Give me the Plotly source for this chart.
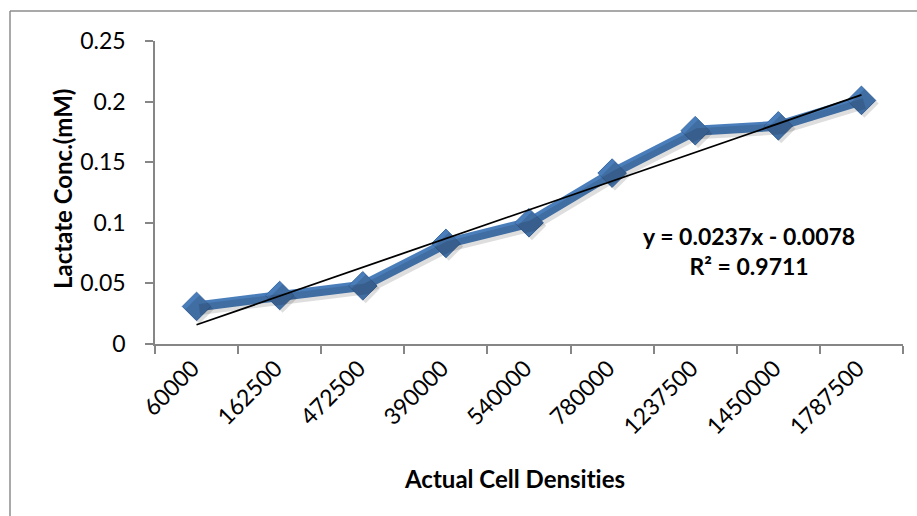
import plotly.graph_objects as go

# Cell density categories (x) and measured lactate concentration (y)
cell_densities = ["60000", "162500", "472500", "390000", "540000",
                  "780000", "1237500", "1450000", "1787500"]
lactate_mM = [0.031, 0.040, 0.048, 0.083, 0.100, 0.141, 0.176, 0.180, 0.201]

# Linear trendline (x = category index 1..n)
slope = 0.0237
intercept = -0.0078
r_squared = 0.9711

y_ticks = [0, 0.05, 0.1, 0.15, 0.2, 0.25]
y_tick_text = ["0", "0.05", "0.1", "0.15", "0.2", "0.25"]

idx = list(range(1, len(cell_densities) + 1))
trend_y = [slope * i + intercept for i in idx]

W, H = 917, 516
L, R, T, B = 155, 14, 41, 172
pw, ph = W - L - R, H - T - B

FONT = "Lato, Open Sans, sans-serif"
BLUE = "#4a7ebb"
AXIS = "#868686"


def px_x(p):
    return (p - L) / pw


def px_y(p):
    return (H - B - p) / ph


fig = go.Figure()

# soft drop shadow under the series
fig.add_trace(go.Scatter(
    x=[i + 0.035 for i in idx], y=[v - 0.0025 for v in lactate_mM],
    xaxis="x2", mode="lines+markers",
    line=dict(color="rgba(0,0,0,0.13)", width=11),
    marker=dict(symbol="diamond", size=22, color="rgba(0,0,0,0.13)"),
    hoverinfo="skip", showlegend=False))

fig.add_trace(go.Scatter(
    x=cell_densities, y=lactate_mM, mode="lines+markers",
    line=dict(color=BLUE, width=10),
    marker=dict(symbol="diamond", size=22, color=BLUE,
                line=dict(color="#3b6aa6", width=1)),
    showlegend=False))

fig.add_trace(go.Scatter(
    x=cell_densities, y=trend_y, mode="lines",
    line=dict(color="black", width=1.8), showlegend=False))

fig.update_layout(
    width=W, height=H,
    margin=dict(l=L, r=R, t=T, b=B),
    paper_bgcolor="white", plot_bgcolor="white",
    font=dict(family=FONT, color="black"),
    xaxis=dict(
        type="category", range=[-0.5, len(cell_densities) - 0.5],
        tickson="boundaries", ticks="outside", ticklen=8, tickcolor=AXIS,
        tickwidth=1.5, showline=True, linecolor=AXIS, linewidth=1.5,
        showgrid=False, zeroline=False, tickangle=-45,
        ticklabelshift=-4,
        tickfont=dict(size=23, family=FONT)),
    xaxis2=dict(overlaying="x", range=[0.5, len(cell_densities) + 0.5],
                visible=False),
    yaxis=dict(
        range=[0, 0.25], tickvals=y_ticks, ticktext=y_tick_text,
        ticks="outside", ticklen=8, tickcolor=AXIS, tickwidth=1.5,
        ticklabelstandoff=15,
        showline=True, linecolor=AXIS, linewidth=1.5,
        showgrid=False, zeroline=False,
        tickfont=dict(size=23, family=FONT)),
)

# axis titles (zero-width non-joiner keeps "ti" from forming a ligature)
fig.add_annotation(
    x=px_x(514), y=px_y(478), xref="paper", yref="paper",
    xanchor="center", yanchor="middle", showarrow=False,
    text="<b>Actual Cell Densit\u200cies</b>",
    font=dict(size=24, family=FONT, color="black"))
fig.add_annotation(
    x=px_x(62), y=px_y(189), xref="paper", yref="paper",
    xanchor="center", yanchor="middle", showarrow=False, textangle=-90,
    text="<b>Lactate Conc.(mM)</b>",
    font=dict(size=24, family=FONT, color="black"))

# trendline equation label
fig.add_annotation(
    x=px_x(749), y=px_y(251), xref="paper", yref="paper",
    xanchor="center", yanchor="middle",
    text=f"<b>y = {slope}x - {abs(intercept)}<br>R² = {r_squared}</b>",
    showarrow=False, align="center",
    font=dict(size=23, family=FONT, color="black"))

# chart frame (top and left edges, the rest runs off the canvas)
fx = px_x(10)
fy = px_y(11)
frame = dict(color="#8c8c8c", width=1.5)
fig.add_shape(type="line", xref="paper", yref="paper",
              x0=fx, y0=fy, x1=1.2, y1=fy, line=frame)
fig.add_shape(type="line", xref="paper", yref="paper",
              x0=fx, y0=fy, x1=fx, y1=-0.8, line=frame)

fig.write_html("out.html")
